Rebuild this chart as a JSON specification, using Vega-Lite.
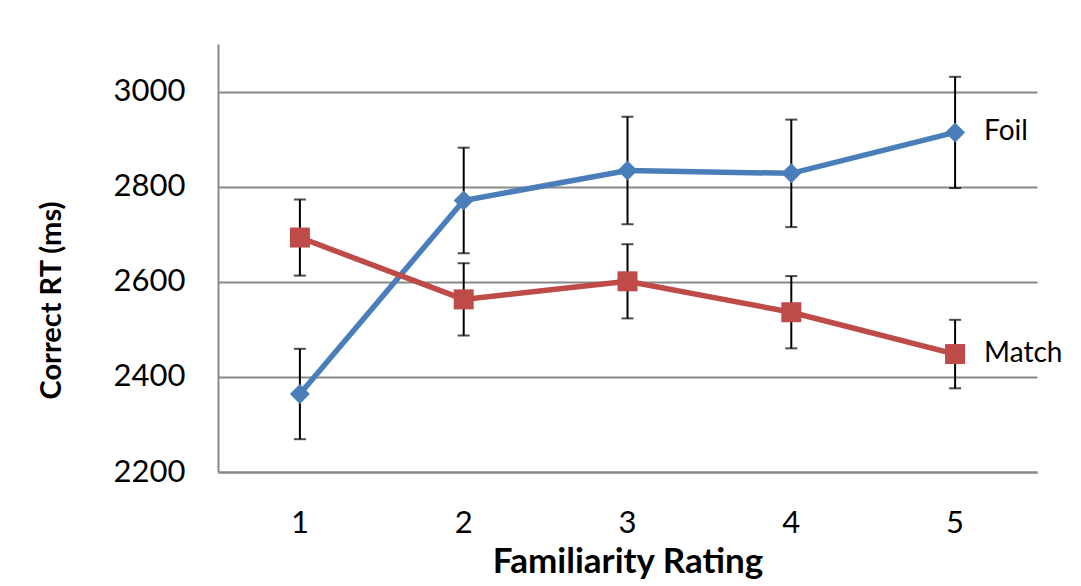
{
  "$schema": "https://vega.github.io/schema/vega-lite/v6.json",
  "autosize": {"type": "none"},
  "width": 819,
  "height": 428,
  "padding": {"left": 218, "top": 44, "right": 44, "bottom": 114},
  "background": "white",
  "config": {
    "view": {"stroke": null},
    "font": "Lato",
    "axis": {"labelFont": "Lato", "titleFont": "Lato", "labelColor": "black", "titleColor": "black", "ticks": false, "domainColor": "#888888", "domainWidth": 2},
    "axisX": {"labelFontSize": 31, "labelPadding": 36, "labelAngle": 0, "titleFontSize": 35, "titleFontWeight": "bold", "titlePadding": 6},
    "axisY": {"labelFontSize": 31, "labelPadding": 33, "titleFontSize": 29, "titleFontWeight": "bold", "titlePadding": 47, "titleY": 256, "gridColor": "#888888", "gridWidth": 2, "grid": true, "format": "d"}
  },
  "data": {
    "values": [
      {"rating": "1", "series": "Foil", "rt": 2364, "lo": 2269, "hi": 2459},
      {"rating": "2", "series": "Foil", "rt": 2771, "lo": 2660, "hi": 2882},
      {"rating": "3", "series": "Foil", "rt": 2834, "lo": 2721, "hi": 2947},
      {"rating": "4", "series": "Foil", "rt": 2828, "lo": 2715, "hi": 2941},
      {"rating": "5", "series": "Foil", "rt": 2914, "lo": 2797, "hi": 3031},
      {"rating": "1", "series": "Match", "rt": 2693, "lo": 2613, "hi": 2773},
      {"rating": "2", "series": "Match", "rt": 2563, "lo": 2487, "hi": 2639},
      {"rating": "3", "series": "Match", "rt": 2601, "lo": 2523, "hi": 2679},
      {"rating": "4", "series": "Match", "rt": 2536, "lo": 2460, "hi": 2612},
      {"rating": "5", "series": "Match", "rt": 2448, "lo": 2376, "hi": 2520}
    ]
  },
  "encoding": {
    "x": {
      "field": "rating", "type": "ordinal",
      "scale": {"type": "band", "paddingInner": 0, "paddingOuter": 0},
      "axis": {"title": "Familiarity Rating"}
    }
  },
  "layer": [
    {
      "mark": {"type": "rule", "color": "black", "strokeWidth": 2},
      "encoding": {
        "y": {
          "field": "lo", "type": "quantitative",
          "scale": {"domain": [2200, 3100], "nice": false, "zero": false},
          "axis": {"title": "Correct RT (ms)", "values": [2200, 2400, 2600, 2800, 3000]}
        },
        "y2": {"field": "hi"}
      }
    },
    {
      "mark": {"type": "tick", "color": "black", "thickness": 2, "size": 12},
      "encoding": {"y": {"field": "lo", "type": "quantitative"}}
    },
    {
      "mark": {"type": "tick", "color": "black", "thickness": 2, "size": 12},
      "encoding": {"y": {"field": "hi", "type": "quantitative"}}
    },
    {
      "mark": {"type": "line", "strokeWidth": 5.5},
      "encoding": {
        "y": {"field": "rt", "type": "quantitative"},
        "color": {"field": "series", "type": "nominal", "scale": {"domain": ["Foil", "Match"], "range": ["#4a7ebb", "#be4b48"]}, "legend": null}
      }
    },
    {
      "mark": {"type": "point", "filled": true, "opacity": 1},
      "encoding": {
        "y": {"field": "rt", "type": "quantitative"},
        "color": {"field": "series", "type": "nominal", "legend": null},
        "shape": {"field": "series", "type": "nominal", "scale": {"domain": ["Foil", "Match"], "range": ["diamond", "square"]}, "legend": null},
        "size": {"value": 400}
      }
    },
    {
      "transform": [{"filter": "datum.rating == '5'"}],
      "mark": {"type": "text", "align": "left", "baseline": "middle", "dx": 29, "fontSize": 28, "color": "black"},
      "encoding": {
        "y": {"field": "rt", "type": "quantitative"},
        "text": {"field": "series"}
      }
    }
  ]
}
